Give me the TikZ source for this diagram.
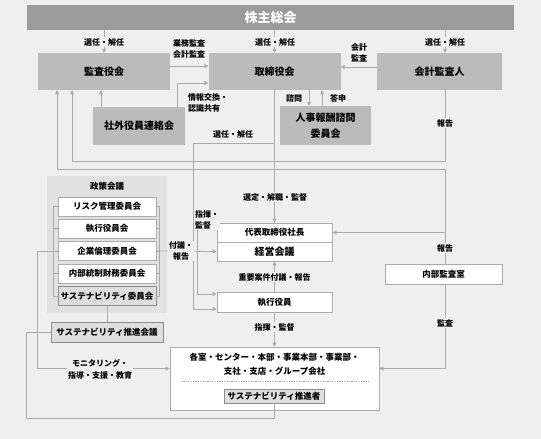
\documentclass[tikz,border=0pt]{standalone}
\usepackage{fontspec}
\setmainfont{Noto Sans CJK JP}
\usetikzlibrary{arrows.meta}
\definecolor{bgc}{HTML}{EFEFEF}
\definecolor{barc}{HTML}{9B9B9B}
\definecolor{boxc}{HTML}{BBBBBB}
\definecolor{panelc}{HTML}{E1E1E1}
\definecolor{linec}{HTML}{ABABAB}
\definecolor{sfill}{HTML}{DEDEDE}
\definecolor{sdraw}{HTML}{8C8C8C}
\tikzset{
	bar/.style={fill=barc, text=white, font=\fontsize{13}{15}\selectfont\bfseries, inner sep=0pt},
	gbox/.style={fill=boxc, font=\fontsize{10}{13}\selectfont\bfseries, align=center, inner sep=0pt},
	wbox/.style={fill=white, draw=linec, line width=0.8pt, font=\fontsize{8.5}{10}\selectfont\bfseries, inner sep=0pt},
	sbox/.style={fill=sfill, draw=sdraw, line width=0.8pt, font=\fontsize{8.5}{10}\selectfont\bfseries, inner sep=0pt},
	lbl/.style={fill=bgc, font=\fontsize{8}{10.5}\selectfont\bfseries, inner sep=1pt, align=center},
	conn/.style={draw=linec, line width=0.8pt},
	arr/.style={conn, -{Triangle[length=4pt,width=4pt]}},
}
\begin{document}
\begin{tikzpicture}[x=1pt,y=-1pt]
	\fill[bgc] (0,0) rectangle (541,439);
	\useasboundingbox (0,0) rectangle (541,439);
	
	% 上段
	\node[bar, minimum width=487pt, minimum height=25pt] (soukai) at (270.5,17.5) {株主総会};
	\node[gbox, minimum width=132pt, minimum height=37pt] (kansa) at (104,71.5) {監査役会};
	\node[gbox, minimum width=132pt, minimum height=37pt] (torishimari) at (274.5,71.5) {取締役会};
	\node[gbox, minimum width=125pt, minimum height=37pt] (kaikei) at (439.5,71.5) {会計監査人};
	\node[gbox, minimum width=92pt, minimum height=38pt] (shagai) at (139,126) {社外役員連絡会};
	\node[gbox, minimum width=91pt, minimum height=39pt, font=\fontsize{10}{16}\selectfont\bfseries] (jinji) at (325.5,125.5) {人事報酬諮問\\委員会};
	
	% 政策会議
	\node[fill=panelc, minimum width=120pt, minimum height=137pt, inner sep=0pt] (seisaku) at (107,244.5) {};
	\node[font=\fontsize{8.5}{10}\selectfont\bfseries] (seisakutitle) at (107,186) {政策会議};
	\node[wbox, minimum width=98pt, minimum height=19pt] (risk) at (107,206.5) {リスク管理委員会};
	\node[wbox, minimum width=98pt, minimum height=19pt] (shikkoukai) at (107,228.5) {執行役員会};
	\node[wbox, minimum width=98pt, minimum height=19pt] (rinri) at (107,251) {企業倫理委員会};
	\node[wbox, minimum width=98pt, minimum height=19pt] (naibu) at (107,273.5) {内部統制財務委員会};
	\node[sbox, minimum width=98pt, minimum height=19pt] (sus) at (107,296) {サステナビリティ委員会};
	\node[sbox, minimum width=112pt, minimum height=20pt] (suishin) at (107,332) {サステナビリティ推進会議};
	
	% 執行
	\node[wbox, minimum width=115pt, minimum height=19pt] (shachou) at (274.5,232.5) {代表取締役社長};
	\node[wbox, minimum width=115pt, minimum height=19pt, font=\fontsize{10}{12}\selectfont\bfseries] (keiei) at (274.5,251.5) {経営会議};
	\node[wbox, minimum width=115pt, minimum height=20pt] (shikkou) at (274.5,302) {執行役員};
	\node[wbox, minimum width=117pt, minimum height=20pt] (naibukansa) at (443.5,274) {内部監査室};
	\node[wbox, minimum width=209pt, minimum height=63pt] (kakushitsu) at (274.5,378.5) {};
	\node[font=\fontsize{8.5}{14}\selectfont\bfseries, align=center] (kakutext) at (274.5,364) {各室・センター・本部・事業本部・事業部・\\支社・支店・グループ会社};
	\draw[linec, line width=0.8pt, dash pattern=on 1.2pt off 1.2pt] (181,381) -- (369,381);
	\node[sbox, minimum width=100pt, minimum height=14pt] (suishinsha) at (274,396) {サステナビリティ推進者};
	
	% 縦の位置
	\coordinate (xk) at (445,0);
	\coordinate (xa) at (309,0);
	\coordinate (xb) at (322,0);
	\coordinate (xr1) at (72,0);
	\coordinate (xr2) at (57,0);
	\coordinate (h1) at (445,161);
	\coordinate (h2) at (445,169);
	\coordinate (s1) at (274.5,143);
	
	% 株主総会から
	\draw[arr] (kansa.north |- soukai.south) -- (kansa.north);
	\draw[arr] (torishimari.north |- soukai.south) -- (torishimari.north);
	\draw[arr] (xk |- soukai.south) -- (xk |- kaikei.north);
	\node[lbl] (sen1) at (104,42) {選任・解任};
	\node[lbl] (sen2) at (275,42) {選任・解任};
	\node[lbl] (sen3) at (445,42) {選任・解任};
	
	% 取締役会まわり
	\draw[arr] ([yshift=5.5pt]kansa.east) -- ([yshift=5.5pt]torishimari.west);
	\draw[arr] ([yshift=4.5pt]kaikei.west) -- ([yshift=4.5pt]torishimari.east);
	\draw[arr] ([xshift=-38pt]shagai.north) -- ([xshift=-38pt]shagai.north |- kansa.south);
	\draw[arr] ([xshift=38pt]shagai.north) |- ([yshift=-11.5pt]torishimari.west);
	\draw[arr] (xa |- torishimari.south) -- (xa |- jinji.north);
	\draw[arr] (xb |- jinji.north) -- (xb |- torishimari.south);
	\node[lbl] (gyoumu) at (189,49) {業務監査\\会計監査};
	\node[lbl] (kaikeikansa) at (359,53) {会計\\監査};
	\node[lbl, align=left, anchor=west] (jouhou) at (187,103) {情報交換・\\認識共有};
	\node[lbl] (shimon) at (294,98) {諮問};
	\node[lbl] (toushin) at (338,98) {答申};
	
	% 報告
	\draw[arr] (xk |- kaikei.south) -- (h1) -| (xr1 |- kansa.south);
	\draw[arr] (xk |- naibukansa.north) -- (h2) -| (xr2 |- kansa.south);
	\draw[arr] (xk |- shachou.east) -- (shachou.east);
	\node[lbl] (houkoku1) at (445,123) {報告};
	\node[lbl] (houkoku2) at (445,248) {報告};
	
	% 執行の流れ
	\draw[arr] (torishimari.south) -- (shachou.north);
	\draw[arr] (s1) -- ++(-81.5pt,0) |- ([yshift=-7pt]shikkou.west);
	\draw[arr] ([yshift=6.5pt]shachou.west) -- ++(-19pt,0) |- ([yshift=8pt]shikkou.west);
	\draw[arr] (shikkou.north) -- (keiei.south);
	\draw[arr] (shikkou.south) -- (kakushitsu.north);
	\draw[arr] (rinri.east) -- (keiei.west);
	\draw[arr] (xk |- naibukansa.south) |- ([yshift=10pt]kakushitsu.east);
	\node[lbl] (sennin) at (233,134) {選任・解任};
	\node[lbl] (sentei) at (275,197) {選定・解職・監督};
	\node[lbl, align=left] (shiki1) at (207,220) {指揮・\\監督};
	\node[lbl] (fugi) at (181,251) {付議・\\報告};
	\node[lbl] (juuyou) at (274.5,277) {重要案件付議・報告};
	\node[lbl] (shiki2) at (274.5,327) {指揮・監督};
	\node[lbl] (kansa2) at (445,323) {監査};
	
	% 政策会議の括り
	\draw[conn] (risk.west) -- ++(-4pt,0) |- (sus.west);
	\draw[conn] (risk.east) -- ++(3pt,0) |- (sus.east);
	\foreach \n in {shikkoukai,rinri,naibu}{
		\draw[conn] (\n.west) -- ++(-4pt,0);
		\draw[conn] (\n.east) -- ++(3pt,0);
	}
	\draw[arr] ([xshift=-4pt]rinri.west) -- ++(-16pt,0) |- ([yshift=10pt]kakushitsu.west);
	\node[lbl, font=\fontsize{8}{12}\selectfont\bfseries] (monitor) at (100,369) {モニタリング・\\指導・支援・教育};
	
	% サステナビリティ
	\draw[conn] (sus.south) -- (suishin.north);
	\draw[conn] (suishinsha.south) -- ++(0,-15pt) -| ([xshift=-24pt]suishin.west) -- (suishin.west);
\end{tikzpicture}
\end{document}
